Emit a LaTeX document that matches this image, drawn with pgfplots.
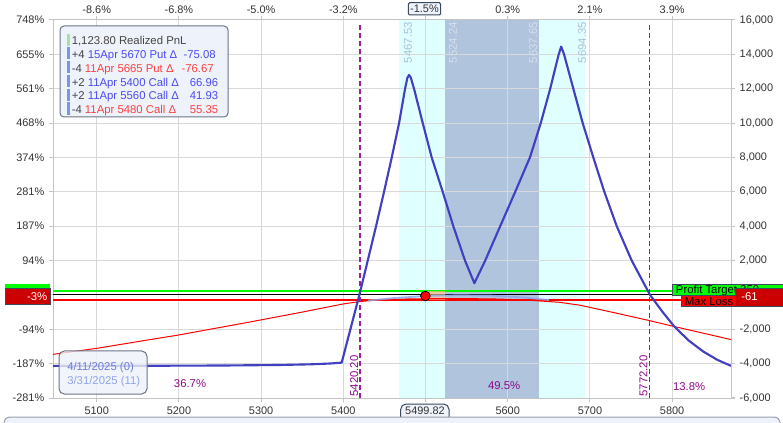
\documentclass[border=0pt]{standalone}
\usepackage{fontspec}
\setmainfont{Liberation Sans}
\usepackage{pgfplots}
\pgfplotsset{compat=1.18}

\definecolor{pnlblue}{HTML}{4040C0}
\definecolor{tzeroblue}{HTML}{8FA6EC}
\definecolor{bandcyan}{HTML}{E0FFFF}
\definecolor{bandsteel}{HTML}{B0C4DE}
\definecolor{gridgray}{HTML}{D9D9D9}
\definecolor{axisgray}{HTML}{C4C4C4}
\definecolor{ticktext}{HTML}{333333}
\definecolor{legfill}{HTML}{EEF2FA}
\definecolor{legdraw}{HTML}{6B7585}
\definecolor{posblue}{HTML}{4B4BF2}
\definecolor{negred}{HTML}{FF4040}
\definecolor{txtdark}{HTML}{444444}
\definecolor{barblue}{HTML}{7B96E8}
\definecolor{bargreen}{HTML}{A6E3A1}
\definecolor{ptgreen}{HTML}{00FF00}
\definecolor{mlred}{HTML}{FF0000}
\definecolor{boxred}{HTML}{CC0000}
\definecolor{boxdraw}{HTML}{3A4A5A}
\definecolor{bandtxt}{HTML}{AEC1DA}
\definecolor{bandtxtlt}{HTML}{D6E0EC}
\definecolor{expurple}{HTML}{8A0A8A}
\definecolor{dashpurple}{HTML}{9B1F9B}
\definecolor{peach}{HTML}{F2B27E}

\newcommand\tf{\fontsize{8.2pt}{9.8pt}\selectfont}
\newcommand\lf{\fontsize{8.5pt}{10pt}\selectfont}

\pgfplotsset{
  chart/.style={
    at={(39.75pt,18pt)}, anchor=south west,
    width=508.5pt, height=283.5pt, scale only axis,
    xmin=5046.8, xmax=5871.6, ymin=-6000, ymax=16000,
    xtick={5100,5200,...,5800},
    ytick={-6000,-4000,...,16000},
    scaled ticks=false,
    /pgf/number format/assume math mode=true,
    axis line style={draw=axisgray, line width=0.75pt},
    tick style={draw=axisgray, line width=0.75pt},
    tick align=outside, major tick length=3pt,
    ticklabel style={font=\tf, text=ticktext},
  },
}

\begin{document}
\begin{tikzpicture}
\path[use as bounding box] (0,0) rectangle (587.25pt,316.5pt);

% shaded bands below the grid
\begin{axis}[chart, hide axis]
\addplot[fill=bandcyan, draw=none] coordinates {
  (5467.53,-6000) (5694.35,-6000) (5694.35,16000) (5467.53,16000)} --cycle;
\addplot[fill=bandsteel, draw=none] coordinates {
  (5524.24,-6000) (5637.65,-6000) (5637.65,16000) (5524.24,16000)} --cycle;
\end{axis}

% main axis: grid, curves, left and bottom labels
\begin{axis}[chart,
  clip mode=individual,
  grid=major, grid style={draw=gridgray, line width=0.75pt},
  xticklabels={5100,5200,5300,5400,,5600,5700,5800},
  yticklabels={-281\%,-187\%,-94\%,,94\%,187\%,281\%,374\%,468\%,561\%,655\%,748\%},
]
% profit target, zero, max loss
\addplot[ptgreen, line width=1.5pt] coordinates {(5046.8,250) (5871.6,250)};
\addplot[black, line width=0.75pt] coordinates {(5046.8,0) (5871.6,0)};
\addplot[mlred, line width=1.5pt] coordinates {(5046.8,-270) (5871.6,-270)};

% expected move lines
\addplot[dashpurple, line width=0.85pt, dash pattern=on 3.8pt off 2.2pt] coordinates {(5420.20,-6000) (5420.20,15880)};
\addplot[dashpurple, line width=0.85pt, dash pattern=on 3.8pt off 2.2pt] coordinates {(5772.20,-6000) (5772.20,15880)};

% current price marker band
\addplot[fill=peach, fill opacity=0.7, draw=none] coordinates {
  (5499.82,-270) (5524.24,-270) (5524.24,250) (5499.82,250)} --cycle;

% T+0 (red)
\addplot[mlred, line width=0.75pt] coordinates {
  (5046.8,-3460) (5100,-3110) (5165,-2600) (5200,-2330) (5286,-1580)
  (5350,-1000) (5400,-524) (5420,-390) (5440,-300) (5480,-230)
  (5530,-210) (5580,-230) (5620,-290) (5663,-430) (5688,-600)
  (5730,-1040) (5770,-1470) (5803,-1845) (5871.6,-2600)
};

% 3/31/2025 (11)
\addplot[tzeroblue, line width=1.3pt, opacity=0.85] coordinates {
  (5430,-330) (5460,-190) (5500,-61) (5540,-20) (5580,-40) (5620,-150) (5650,-300)
};

% 4/11/2025 (0) expiration
\addplot[pnlblue, line width=1.6pt, line join=round] coordinates {
  (5046.8,-4130) (5150,-4125) (5250,-4110) (5320,-4080) (5360,-4040)
  (5385,-3990) (5398,-3940) (5419.5,0) (5429.7,2000) (5439.8,4000)
  (5449.5,6000) (5458.9,8000) (5467.8,10000) (5475.1,12000) (5478,12650)
  (5480,12800) (5482,12650) (5486,12000) (5496.6,10000) (5507.5,8000)
  (5520.9,6000) (5533.8,4000) (5548,2000) (5559.4,680) (5572.4,1979)
  (5590.6,3976) (5608.9,5978) (5627.1,8015) (5640.1,9994) (5651.5,11973)
  (5662,14000) (5665,14450) (5668.5,14000) (5679.8,12000) (5691.2,10000)
  (5704.1,8000) (5717.5,6000) (5732.6,4000) (5750.8,2000) (5773.1,0)
  (5788,-970) (5802.7,-1845) (5820,-2650) (5838,-3300) (5855,-3780)
  (5871.6,-4130)
};

% current price dot
\addplot[only marks, mark=*, mark size=3.6pt, mark options={fill=red, draw=black, line width=0.6pt}]
  coordinates {(5499.82,-61)};

% band labels
\node[rotate=90, anchor=east, inner sep=0pt, font=\lf, text=bandtxt] at (axis cs:5478.7,15890) {5467.53};
\node[rotate=90, anchor=east, inner sep=0pt, font=\lf, text=bandtxtlt] at (axis cs:5533.5,15890) {5524.24};
\node[rotate=90, anchor=east, inner sep=0pt, font=\lf, text=bandtxtlt] at (axis cs:5630.9,15890) {5637.65};
\node[rotate=90, anchor=east, inner sep=0pt, font=\lf, text=bandtxt] at (axis cs:5690.6,15890) {5694.35};

% expected move labels
\node[rotate=90, anchor=west, inner sep=0pt, font=\lf, text=expurple] at (axis cs:5413.2,-5930) {5420.20};
\node[rotate=90, anchor=west, inner sep=0pt, font=\lf, text=expurple] at (axis cs:5765,-5930) {5772.20};

% probabilities
\node[font=\lf, text=expurple] at (axis cs:5213.5,-5180) {36.7\%};
\node[font=\lf, text=expurple] at (axis cs:5595.6,-5300) {49.5\%};
\node[font=\lf, text=expurple] at (axis cs:5820.6,-5350) {13.8\%};
\end{axis}

% right and top labels
\begin{axis}[chart,
  axis x line*=top, axis y line*=right,
  xticklabel style={yshift=-1.5pt},
  xticklabels={-8.6\%,-6.8\%,-5.0\%,-3.2\%,,0.3\%,2.1\%,3.9\%},
  yticklabels={{-6,000},{-4,000},{-2,000},{},{2,000},{4,000},{6,000},{8,000},{10,000},{12,000},{14,000},{16,000}},
]
\end{axis}

\begin{scope}[x=0.75pt,y=0.75pt]
% position legend
\draw[legdraw, fill=legfill, line width=0.75pt, rounded corners=3pt] (60,396) rectangle (228,305);
\fill[bargreen] (66.7,375.8) rectangle (70.3,388.4);
\foreach \i in {1,...,5} {
  \fill[barblue] (66.7,{375.0-13.85*(\i-1)-12.2}) rectangle (70.3,{375.0-13.85*(\i-1)});
}
\node[anchor=base west, inner sep=0pt, font=\lf, text=txtdark] at (71.5,377.5) {1,123.80 Realized PnL};
\node[anchor=base west, inner sep=0pt, font=\lf] at (71.5,363.6) {\color{txtdark}+4 \color{posblue}15Apr 5670 Put Δ};
\node[anchor=base east, inner sep=0pt, font=\lf, text=posblue] at (216,363.6) {-75.08};
\node[anchor=base west, inner sep=0pt, font=\lf] at (71.5,349.8) {\color{txtdark}-4 \color{negred}11Apr 5665 Put Δ};
\node[anchor=base east, inner sep=0pt, font=\lf, text=negred] at (214,349.8) {-76.67};
\node[anchor=base west, inner sep=0pt, font=\lf] at (71.5,335.9) {\color{txtdark}+2 \color{posblue}11Apr 5400 Call Δ};
\node[anchor=base east, inner sep=0pt, font=\lf, text=posblue] at (218.5,335.9) {66.96};
\node[anchor=base west, inner sep=0pt, font=\lf] at (71.5,322.1) {\color{txtdark}+2 \color{posblue}11Apr 5560 Call Δ};
\node[anchor=base east, inner sep=0pt, font=\lf, text=posblue] at (218.5,322.1) {41.93};
\node[anchor=base west, inner sep=0pt, font=\lf] at (71.5,308.2) {\color{txtdark}-4 \color{negred}11Apr 5480 Call Δ};
\node[anchor=base east, inner sep=0pt, font=\lf, text=negred] at (218.5,308.2) {55.35};

% date legend
\draw[legdraw, fill=legfill, fill opacity=0.8, line width=0.75pt, rounded corners=4pt] (59,71) rectangle (147,28);
\node[anchor=base west, inner sep=0pt, font=\lf, text=tzeroblue!60!pnlblue] at (67,51) {4/11/2025 (0)};
\node[anchor=base west, inner sep=0pt, font=\lf, text=tzeroblue] at (67,38) {3/31/2025 (11)};

% left value flag
\fill[ptgreen] (5,137.7) rectangle (50,133.7);
\draw[boxdraw, fill=boxred, line width=0.5pt] (5,133.7) rectangle (50,117.7);
\node[anchor=base east, inner sep=0pt, font=\lf, text=white] at (47.5,122) {-3\%};

% right flags
\draw[boxdraw, fill=ptgreen, line width=0.75pt] (672.3,137.7) rectangle (790,126);
\node[anchor=base west, inner sep=0pt, font=\lf, text=black] at (675.7,128.3) {Profit Target 250};
\draw[boxdraw, fill=mlred, line width=0.75pt] (681.7,126) rectangle (790,115.3);
\node[anchor=base west, inner sep=0pt, font=\lf, text=black] at (684.5,116.8) {Max Loss -321};
\draw[boxdraw, fill=boxred, line width=0.75pt] (735,133.7) rectangle (790,115.3);
\node[anchor=base west, inner sep=0pt, font=\lf, text=white] at (741,121) {-61};

% current price boxes
\draw[boxdraw, fill=legfill, line width=0.75pt, rounded corners=1pt] (408.3,419.3) rectangle (440.7,407);
\node[font=\tf, text=ticktext, inner sep=0pt] at (424.5,413.2) {-1.5\%};
\draw[boxdraw, fill=legfill, line width=0.75pt, rounded corners=4pt] (400.7,-6) rectangle (449,18);
\node[font=\tf, text=ticktext, inner sep=0pt] at (425,10.8) {5499.82};

% scroll strip at the bottom
\draw[legdraw!70, fill=legfill, line width=0.75pt, rounded corners=4pt] (4,-10) rectangle (780,5);
\end{scope}
\end{tikzpicture}
\end{document}
